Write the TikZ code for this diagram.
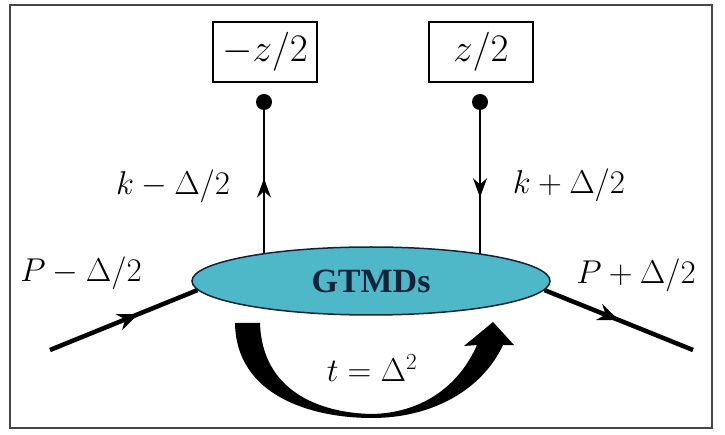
\documentclass[tikz,border=0pt]{standalone}
\usepackage{fix-cm}
\usepackage{fontspec}
\newfontfamily\tiempos{Liberation Serif}
\usetikzlibrary{positioning,arrows.meta,shapes.geometric,decorations.markings,backgrounds}
\definecolor{cian}{RGB}{78,184,200}
\definecolor{borde}{RGB}{20,35,55}
\definecolor{marco}{RGB}{70,70,70}

\begin{document}
\begin{tikzpicture}[x=1pt,y=-1pt,
  caja/.style={draw, line width=2pt, minimum width=104pt, minimum height=60pt,
    inner sep=0pt, font=\fontsize{39}{46}\selectfont},
  punto/.style={circle, fill=black, inner sep=0pt, minimum size=16pt},
  etiqueta/.style={font=\fontsize{33}{40}\selectfont, inner sep=0pt},
  mancha/.style={ellipse, draw=borde, line width=1.5pt, fill=cian,
    minimum width=358pt, minimum height=68pt, inner sep=0pt,
    font=\tiempos\bfseries\fontsize{34}{40}\selectfont, text=borde},
  fermion/.style={line width=4.5pt, postaction={decorate},
    decoration={markings, mark=at position #1 with {\arrow{Stealth[length=21pt,width=17pt]}}}},
  quark/.style={line width=2.5pt, postaction={decorate},
    decoration={markings, mark=at position #1 with {\arrow{Stealth[length=19pt,width=14pt]}}}}
]
\useasboundingbox (0,0) rectangle (725,435);
\draw[marco, line width=2.5pt] (10,5) rectangle (712,428);
% Vertice
\node[mancha] (blob) at (371,281) {GTMDs};
% Posiciones
\node[caja] (zizq) at (265,52) {$-z/2$};
\node[caja] (zder) at (481,52) {$z/2$};
\node[punto] (pizq) at (264,102) {};
\node[punto] (pder) at (480,102) {};
\coordinate (pin) at (50,350);
\coordinate (pout) at (693,350);
% Etiquetas
\node[etiqueta] (lpin) at (81,273) {$P-\Delta/2$};
\node[etiqueta] (lpout) at (636,275) {$P+\Delta/2$};
\node[etiqueta] (lkizq) at (173,186) {$k-\Delta/2$};
\node[etiqueta] (lkder) at (569,185) {$k+\Delta/2$};
\node[etiqueta] (transf) at (372,368) {$t=\Delta^2$};
% Lineas
\begin{scope}[on background layer]
\draw[fermion=0.6] (pin) -- (blob.183);
\draw[fermion=0.5] (blob.-3) -- (pout);
\draw[quark=0.6] (pizq |- blob.center) -- (pizq);
\draw[quark=0.51] (pder) -- (pder |- blob.center);
\end{scope}
% Flecha curva
\fill (235,323) .. controls (236,395) and (310,418) .. (372,418)
  .. controls (432,418) and (482,390) .. (503,345) -- (514,345) -- (493,322)
  -- (464,346) -- (477,345) .. controls (458,388) and (420,413) .. (372,414)
  .. controls (318,413) and (262,390) .. (260,323) -- cycle;
\end{tikzpicture}
\end{document}
